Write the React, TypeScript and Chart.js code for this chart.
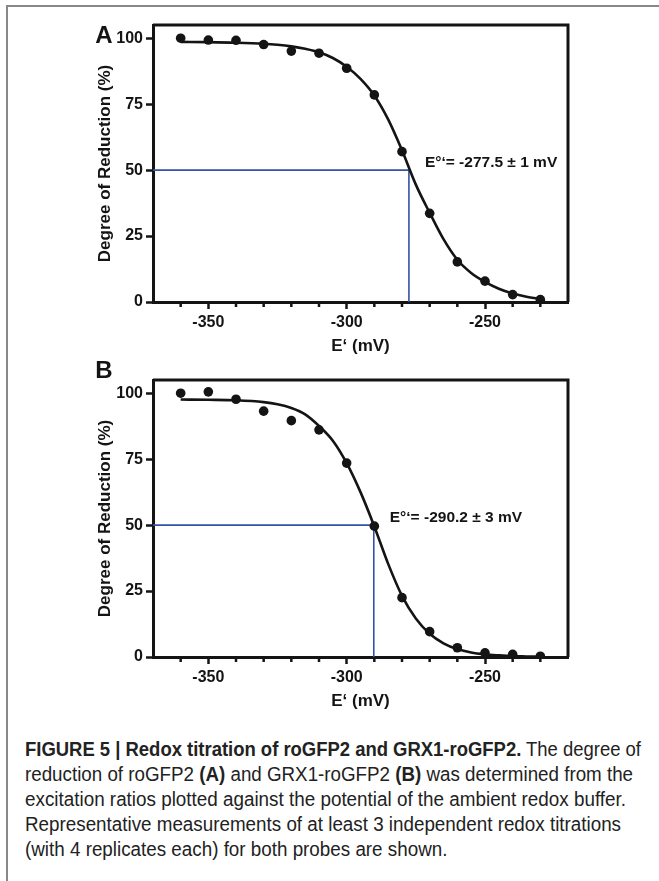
import React, { useEffect, useLayoutEffect, useRef } from 'react';
import { Chart, registerables } from 'chart.js';

Chart.register(...registerables);

// ---- data ----
const potentials = [-360, -350, -340, -330, -320, -310, -300, -290, -280, -270, -260, -250, -240, -230];
const reductionA = [100.0, 99.3, 99.2, 97.6, 95.1, 94.3, 88.6, 78.5, 57.0, 33.6, 15.2, 7.9, 2.8, 0.9];
const reductionB = [100.0, 100.5, 97.7, 93.2, 89.6, 86.1, 73.5, 49.6, 22.5, 9.6, 3.5, 1.6, 1.0, 0.3];

const fitPotentials = [-360, -350, -340, -330, -325, -320, -315, -310, -305, -300, -295, -290, -285, -280, -275, -270, -265, -260, -255, -250, -245, -240, -235, -230];
const fitA = [98.6, 98.5, 98.3, 97.9, 97.5, 96.9, 96.0, 94.7, 92.5, 89.2, 84.6, 78.3, 69.2, 57.5, 44.5, 33.8, 23.8, 16.0, 11.0, 7.6, 5.0, 3.2, 2.0, 1.2];
const fitB = [97.6, 97.5, 97.3, 96.6, 95.8, 94.4, 92.0, 87.6, 82.0, 73.5, 62.5, 49.5, 35.3, 23.2, 14.6, 8.8, 5.2, 3.0, 1.7, 1.0, 0.6, 0.3, 0.2, 0.1];

const midpointA = -277.5;
const errorA = 1;
const midpointB = -290.2;
const errorB = 3;
const halfLevel = 50;

const xMin = -370;
const xMax = -220;
const yMin = 0;
const yMax = 105;
const xMajorTicks = [-350, -300, -250];
const yTicks = [0, 25, 50, 75, 100];

const xTitle = 'E\u2018 (mV)';
const yTitle = 'Degree of Reduction (%)';

// ---- styles ----
const FONT = "'Liberation Sans', Arial, Helvetica, sans-serif";
const INK = '#141414';
const BLUE = '#3451a5';

type PanelProps = {
  points: number[];
  fit: number[];
  midpoint: number;
  error: number;
  top: number;
};

const CANVAS_W = 659;
const CANVAS_H = 357;

function Panel({ points, fit, midpoint, error, top }: PanelProps) {
  const ref = useRef<HTMLCanvasElement | null>(null);

  useEffect(() => {
    const canvas = ref.current;
    if (!canvas) return;

    const decorPlugin = {
      id: 'decor',
      afterDraw(chart: any) {
        const { ctx, chartArea } = chart;
        const { left, right, top: t, bottom } = chartArea;
        const xs = chart.scales.x;
        const ys = chart.scales.y;
        ctx.save();
        // top and right frame
        ctx.strokeStyle = INK;
        ctx.lineWidth = 3;
        ctx.beginPath();
        ctx.moveTo(left, t);
        ctx.lineTo(right, t);
        ctx.lineTo(right, bottom);
        ctx.stroke();
        // minor ticks on x
        ctx.lineWidth = 2.5;
        ctx.beginPath();
        for (const tk of xs.ticks) {
          const v = tk.value;
          if (v <= xMin || v >= xMax) continue;
          if (xMajorTicks.includes(v)) continue;
          const px = xs.getPixelForValue(v);
          ctx.moveTo(px, bottom);
          ctx.lineTo(px, bottom + 5);
        }
        ctx.stroke();
        // annotation text
        const tx = xs.getPixelForValue(midpoint) + 16;
        const ty = ys.getPixelForValue(halfLevel) - 7;
        ctx.fillStyle = INK;
        ctx.font = `bold 15.5px ${FONT}`;
        ctx.textAlign = 'left';
        ctx.textBaseline = 'middle';
        ctx.fillText(`E\u00B0\u2018= ${midpoint} \u00B1 ${error} mV`, tx, ty);
        ctx.restore();
      },
    };

    const chart = new Chart(canvas, {
      type: 'scatter',
      data: {
        datasets: [
          {
            data: [
              { x: xMin, y: halfLevel },
              { x: midpoint, y: halfLevel },
              { x: midpoint, y: yMin },
            ],
            showLine: true,
            borderColor: BLUE,
            borderWidth: 1.6,
            pointRadius: 0,
            tension: 0,
            order: 3,
          } as any,
          {
            data: fitPotentials.map((x, i) => ({ x, y: fit[i] })),
            showLine: true,
            borderColor: INK,
            borderWidth: 2.6,
            pointRadius: 0,
            cubicInterpolationMode: 'monotone',
            order: 2,
          } as any,
          {
            data: potentials.map((x, i) => ({ x, y: points[i] })),
            showLine: false,
            pointRadius: 4.8,
            pointBackgroundColor: INK,
            pointBorderWidth: 0,
            order: 1,
          } as any,
        ],
      },
      options: {
        responsive: false,
        animation: false,
        devicePixelRatio: 1,
        layout: { padding: { left: 95, right: 91, top: 25, bottom: 0 } },
        plugins: { legend: { display: false }, tooltip: { enabled: false } },
        scales: {
          x: {
            type: 'linear',
            min: xMin,
            max: xMax,
            afterFit: (s: any) => {
              s.height = 55;
            },
            ticks: {
              stepSize: 10,
              autoSkip: false,
              maxRotation: 0,
              padding: 4,
              color: INK,
              font: { family: FONT, size: 16, weight: 'bold' },
              callback: (v: any) => (xMajorTicks.includes(Number(v)) ? String(v) : ''),
            },
            grid: {
              display: true,
              drawOnChartArea: false,
              drawTicks: true,
              tickLength: 7,
              tickWidth: 2.5,
              tickColor: (c: any) => (c.tick && xMajorTicks.includes(c.tick.value) ? INK : 'rgba(0,0,0,0)'),
            },
            border: { display: true, color: INK, width: 3 },
            title: {
              display: true,
              text: xTitle,
              color: INK,
              padding: { top: 0, bottom: 0 },
              font: { family: FONT, size: 17, weight: 'bold' },
            },
          },
          y: {
            type: 'linear',
            min: yMin,
            max: yMax,
            afterBuildTicks: (s: any) => {
              s.ticks = yTicks.map((v) => ({ value: v }));
            },
            afterFit: (s: any) => {
              s.width = 58;
            },
            ticks: {
              padding: 3,
              color: INK,
              font: { family: FONT, size: 16, weight: 'bold' },
            },
            grid: {
              display: true,
              drawOnChartArea: false,
              drawTicks: true,
              tickLength: 7,
              tickWidth: 2.5,
              tickColor: INK,
            },
            border: { display: true, color: INK, width: 3 },
            title: {
              display: true,
              text: yTitle,
              color: INK,
              padding: { top: 0, bottom: 0 },
              font: { family: FONT, size: 17, weight: 'bold' },
            },
          },
        },
      } as any,
      plugins: [decorPlugin],
    });

    return () => chart.destroy();
  }, [points, fit, midpoint, error]);

  return (
    <canvas
      ref={ref}
      width={CANVAS_W}
      height={CANVAS_H}
      style={{ position: 'absolute', left: 0, top, width: CANVAS_W, height: CANVAS_H }}
    />
  );
}

// target widths (px) of the caption lines; null = reuse previous scale
const captionWidths: (number | null)[] = [616, 608, 601, 596, null];

function Caption() {
  const refs = useRef<(HTMLSpanElement | null)[]>([]);
  useLayoutEffect(() => {
    let last = 1;
    refs.current.forEach((el, i) => {
      if (!el) return;
      el.style.transform = 'none';
      const w = el.getBoundingClientRect().width;
      const target = captionWidths[i];
      const s = target && w > 0 ? target / w : last;
      last = s;
      el.style.transform = `scaleX(${s})`;
    });
  }, []);
  const lineStyle: React.CSSProperties = {
    display: 'inline-block',
    whiteSpace: 'nowrap',
    transformOrigin: '0 50%',
  };
  const lines: React.ReactNode[] = [
    <>
      <b>FIGURE 5 | Redox titration of roGFP2 and GRX1-roGFP2.</b> The degree of
    </>,
    <>
      reduction of roGFP2 <b>(A)</b> and GRX1-roGFP2 <b>(B)</b> was determined from the
    </>,
    <>excitation ratios plotted against the potential of the ambient redox buffer.</>,
    <>Representative measurements of at least 3 independent redox titrations</>,
    <>(with 4 replicates each) for both probes are shown.</>,
  ];
  return (
    <div
      style={{
        position: 'absolute',
        left: 25,
        top: 737,
        fontFamily: FONT,
        fontSize: 20,
        lineHeight: '25px',
        color: '#222',
      }}
    >
      {lines.map((ln, i) => (
        <div key={i} style={{ height: 25, whiteSpace: 'nowrap' }}>
          <span ref={(el) => { refs.current[i] = el; }} style={lineStyle}>
            {ln}
          </span>
        </div>
      ))}
    </div>
  );
}

export default function App() {
  const letterStyle: React.CSSProperties = {
    position: 'absolute',
    left: 91,
    width: 26,
    textAlign: 'center',
    fontFamily: FONT,
    fontWeight: 'bold',
    fontSize: 24,
    lineHeight: '24px',
    color: INK,
  };
  return (
    <div
      style={{
        position: 'absolute',
        left: 0,
        top: 0,
        width: 659,
        height: 881,
        background: '#fff',
        overflow: 'hidden',
      }}
    >
      <div style={{ position: 'absolute', left: 7, top: 5, width: 652, height: 2, background: '#888' }} />
      <div style={{ position: 'absolute', left: 6, top: 5, width: 2, height: 876, background: '#888' }} />

      <Panel points={reductionA} fit={fitA} midpoint={midpointA} error={errorA} top={0} />
      <Panel points={reductionB} fit={fitB} midpoint={midpointB} error={errorB} top={355} />

      <div style={{ ...letterStyle, top: 23 }}>A</div>
      <div style={{ ...letterStyle, top: 358 }}>B</div>

      <Caption />
    </div>
  );
}
